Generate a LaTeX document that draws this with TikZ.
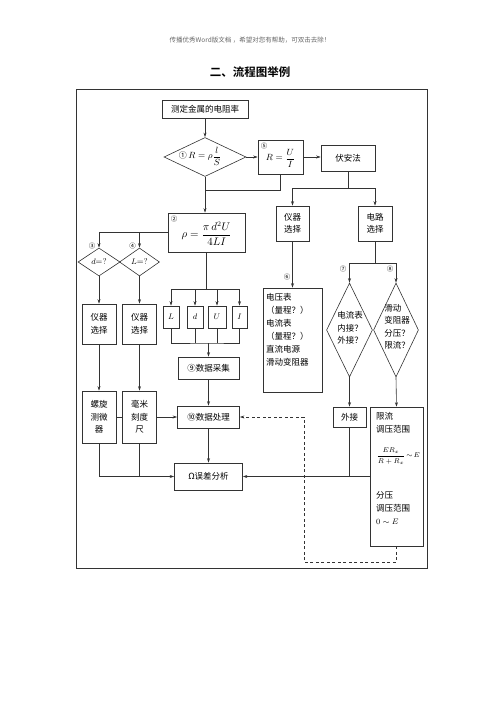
\documentclass[tikz,border=0pt]{standalone}
\usepackage[no-math]{fontspec}
\usepackage{amsmath}
\newfontfamily\cjk{Noto Sans CJK SC}[BoldFont={Noto Sans CJK SC Bold}]
\usetikzlibrary{arrows.meta}
\usetikzlibrary{shapes.geometric}

\begin{document}
\begin{tikzpicture}[x=1pt, y=-1pt,
    box/.style={draw=black!80, line width=0.6pt, inner sep=0pt, align=center,
      font=\cjk\fontsize{8.5}{12.5}\selectfont},
    dia/.style={draw=black!80, diamond, line width=0.6pt, inner sep=0pt,
      font=\fontsize{8.5}{10}\selectfont},
    txt/.style={inner sep=0pt, align=left, font=\cjk\fontsize{8.5}{13}\selectfont},
    num/.style={inner sep=0pt, font=\cjk\fontsize{6.5}{7}\selectfont},
    arr/.style={draw=black!80, line width=0.6pt, -{Stealth[length=4.5pt,width=3pt]}},
    con/.style={draw=black!80, line width=0.6pt},
  ]
    \useasboundingbox (0,0) rectangle (500,708);
    % Header and title
    \node[inner sep=0pt, text=black!60, font=\cjk\fontsize{6.5}{7}\selectfont] (head) at (250,40)
      {传播优秀Word版文档 ，希望对您有帮助，可双击去除！};
    \node[inner sep=0pt, font=\cjk\bfseries\fontsize{11.5}{12}\selectfont] (title) at (250,72)
      {二、流程图举例};
    \draw[black!80, line width=0.7pt] (76,89) rectangle (427,568);

    % Top part
    \node[box, minimum width=86, minimum height=18] (start) at (205,109) {测定金属的电阻率};
    \node[dia, minimum width=82, minimum height=39] (d1) at (205,157) {};
    \node[inner sep=0pt, font=\fontsize{9.5}{10}\selectfont] (d1t) at (200,156)
      {{\cjk\fontsize{8}{9}\selectfont ①}\,$R=\rho\dfrac{l}{S}$};
    \node[box, minimum width=45, minimum height=34, font=\fontsize{9.5}{10}\selectfont,
      text height=14pt, text depth=6pt,
      label={[num, anchor=north west, xshift=3pt, yshift=-3pt]north west:⑤}] (b5) at (280.5,157)
      {$R=\dfrac{U}{I}$};
    \node[box, minimum width=54, minimum height=26, text width=44pt] (fuan) at (348,158) {伏安法};

    % Formula for rho
    \node[box, minimum width=77, minimum height=39, font=\fontsize{10.5}{11}\selectfont,
      text height=15pt, text depth=5pt,
      label={[num, anchor=north west, xshift=3pt, yshift=-3pt]north west:②}] (b2) at (206.5,232.5)
      {$\rho=\dfrac{\pi\,d^{2}U}{4LI}$};

    % Left branch
    \node[dia, minimum width=42, minimum height=28] (d3) at (99,262) {$d$=?};
    \node[dia, minimum width=40, minimum height=28] (d4) at (139.5,262) {$L$=?};
    \node[num] (n3) at (92,246) {③};
    \node[num] (n4) at (132.5,246) {④};
    \node[box, minimum width=34, minimum height=40] (yq1) at (99,324) {仪器\\选择};
    \node[box, minimum width=34, minimum height=40] (yq2) at (139.5,324) {仪器\\选择};
    \node[box, minimum width=34, minimum height=52] (luoxuan) at (99,417) {螺旋\\测微\\器};
    \node[box, minimum width=34, minimum height=52] (haomi) at (139.5,417) {毫米\\刻度\\尺};

    % Measured quantities
    \node[box, minimum width=16, minimum height=22, font=\fontsize{8.5}{10}\selectfont] (bL) at (171,317) {$L$};
    \node[box, minimum width=16, minimum height=22, font=\fontsize{8.5}{10}\selectfont] (bd) at (195,317) {$d$};
    \node[box, minimum width=18, minimum height=22, font=\fontsize{8.5}{10}\selectfont] (bU) at (217,317) {$U$};
    \node[box, minimum width=15, minimum height=22, font=\fontsize{8.5}{10}\selectfont] (bI) at (239.5,317) {$I$};
    \node[box, minimum width=61, minimum height=22] (caiji) at (208.5,368) {⑨数据采集};
    \node[box, minimum width=62, minimum height=22] (chuli) at (208.5,417) {⑩数据处理};
    \node[box, minimum width=68, minimum height=27, text height=10pt, text depth=5pt] (wucha) at (208.5,476.5) {Ω误差分析};

    % Right branch
    \node[box, minimum width=33, minimum height=35] (yq3) at (292.5,223.5) {仪器\\选择};
    \node[box, minimum width=34, minimum height=35] (dlxz) at (375,223.5) {电路\\选择};
    \node[num] (n6) at (287,277) {⑥};
    \node[box, minimum width=59, minimum height=104] (b6) at (292.5,340) {};
    \node[txt, anchor=north west] (b6t) at (266,293)
      {电压表\\（量程？）\\电流表\\（量程？）\\直流电源\\滑动变阻器};
    \node[num] (n7) at (343,269) {⑦};
    \node[num] (n8) at (390,269) {⑧};
    \node[dia, minimum width=46, minimum height=94] (d7) at (349.5,330) {};
    \node[txt, font=\cjk\fontsize{8.5}{12.5}\selectfont] (d7t) at (350,328) {电流表\\内接？\\外接？};
    \node[dia, minimum width=45, minimum height=94] (d8) at (396,330) {};
    \node[txt, font=\cjk\fontsize{8.5}{12.5}\selectfont] (d8t) at (397,327) {滑动\\变阻器\\分压？\\限流？};
    \node[box, minimum width=33, minimum height=20] (waijie) at (349.5,417) {外接};
    \node[box, minimum width=53, minimum height=139] (xianliu) at (396.5,476.5) {};
    \node[txt, anchor=north west] (xl1) at (376,412) {限流\\调压范围};
    \node[inner sep=0pt, anchor=west, font=\fontsize{7.5}{9}\selectfont] (xl2) at (376.5,456)
      {$\dfrac{ER_x}{R+R_x}\!\sim\! E$};
    \node[txt, anchor=north west] (xl3) at (376,491) {分压\\调压范围\\$0\sim E$};

    % Connectors
    \draw[arr] (start.south) -- (d1.north);
    \draw[arr] (d1.east) -- (d1.east -| b5.west);
    \draw[arr] (b5.east) -- (b5.east -| fuan.west);
    \coordinate (fsplit) at (348,188);
    \draw[con] (fuan.south) -- (fsplit);
    \draw[arr] (fsplit) -| (yq3.north);
    \draw[arr] (fsplit) -| (dlxz.north);
    \coordinate (j1) at (205,190);
    \draw[con] (b5.south) |- (j1);
    \draw[arr] (d1.south) -- (d1.south |- b2.north);

    \draw[arr] (b2.west) -| (d3.north);
    \draw[arr] (b2.west -| d4.north) -- (d4.north);
    \draw[arr] (d3.south) -- (yq1.north);
    \draw[arr] (d4.south) -- (yq2.north);
    \draw[arr] (yq1.south) -- (luoxuan.north);
    \draw[arr] (yq2.south) -- (haomi.north);
    \draw[con] (luoxuan.east) -- (haomi.west);
    \draw[arr] (haomi.east) -- (haomi.east -| chuli.west);
    \draw[arr] (luoxuan.south) |- (wucha.west);
    \draw[con] (haomi.south) -- (haomi.south |- wucha.west);

    \coordinate (j2) at (206.5,289);
    \draw[con] (b2.south) -- (j2);
    \draw[arr] (j2) -| (bL.north);
    \draw[arr] (j2) -| (bI.north);
    \draw[arr] (bd.north |- j2) -- (bd.north);
    \draw[arr] (bU.north |- j2) -- (bU.north);
    \coordinate (j3) at (208.5,343);
    \draw[con] (bL.south) |- (j3) -| (bI.south);
    \draw[con] (bd.south) -- (bd.south |- j3);
    \draw[con] (bU.south) -- (bU.south |- j3);
    \draw[arr] (j3) -- (caiji.north);
    \draw[arr] (caiji.south) -- (chuli.north);
    \draw[arr] (chuli.south) -- (wucha.north);

    \draw[arr] (yq3.south) -- (b6.north);
    \coordinate (j4) at (375,263);
    \draw[con] (dlxz.south) -- (j4);
    \draw[arr] (j4) -| (d7.north);
    \draw[arr] (j4) -| (d8.north);
    \draw[arr] (d7.south) -- (waijie.north);
    \draw[arr] (d8.south) -- (xianliu.north);
    \draw[arr] (xianliu.west) -- (wucha.east);
    \draw[con] (waijie.south) -- (waijie.south |- wucha.east);
    \coordinate (dA) at (304,562);
    \draw[arr, dash pattern=on 3pt off 2.5pt] (xianliu.south) |- (dA) |- (chuli.east);
\end{tikzpicture}
\end{document}
